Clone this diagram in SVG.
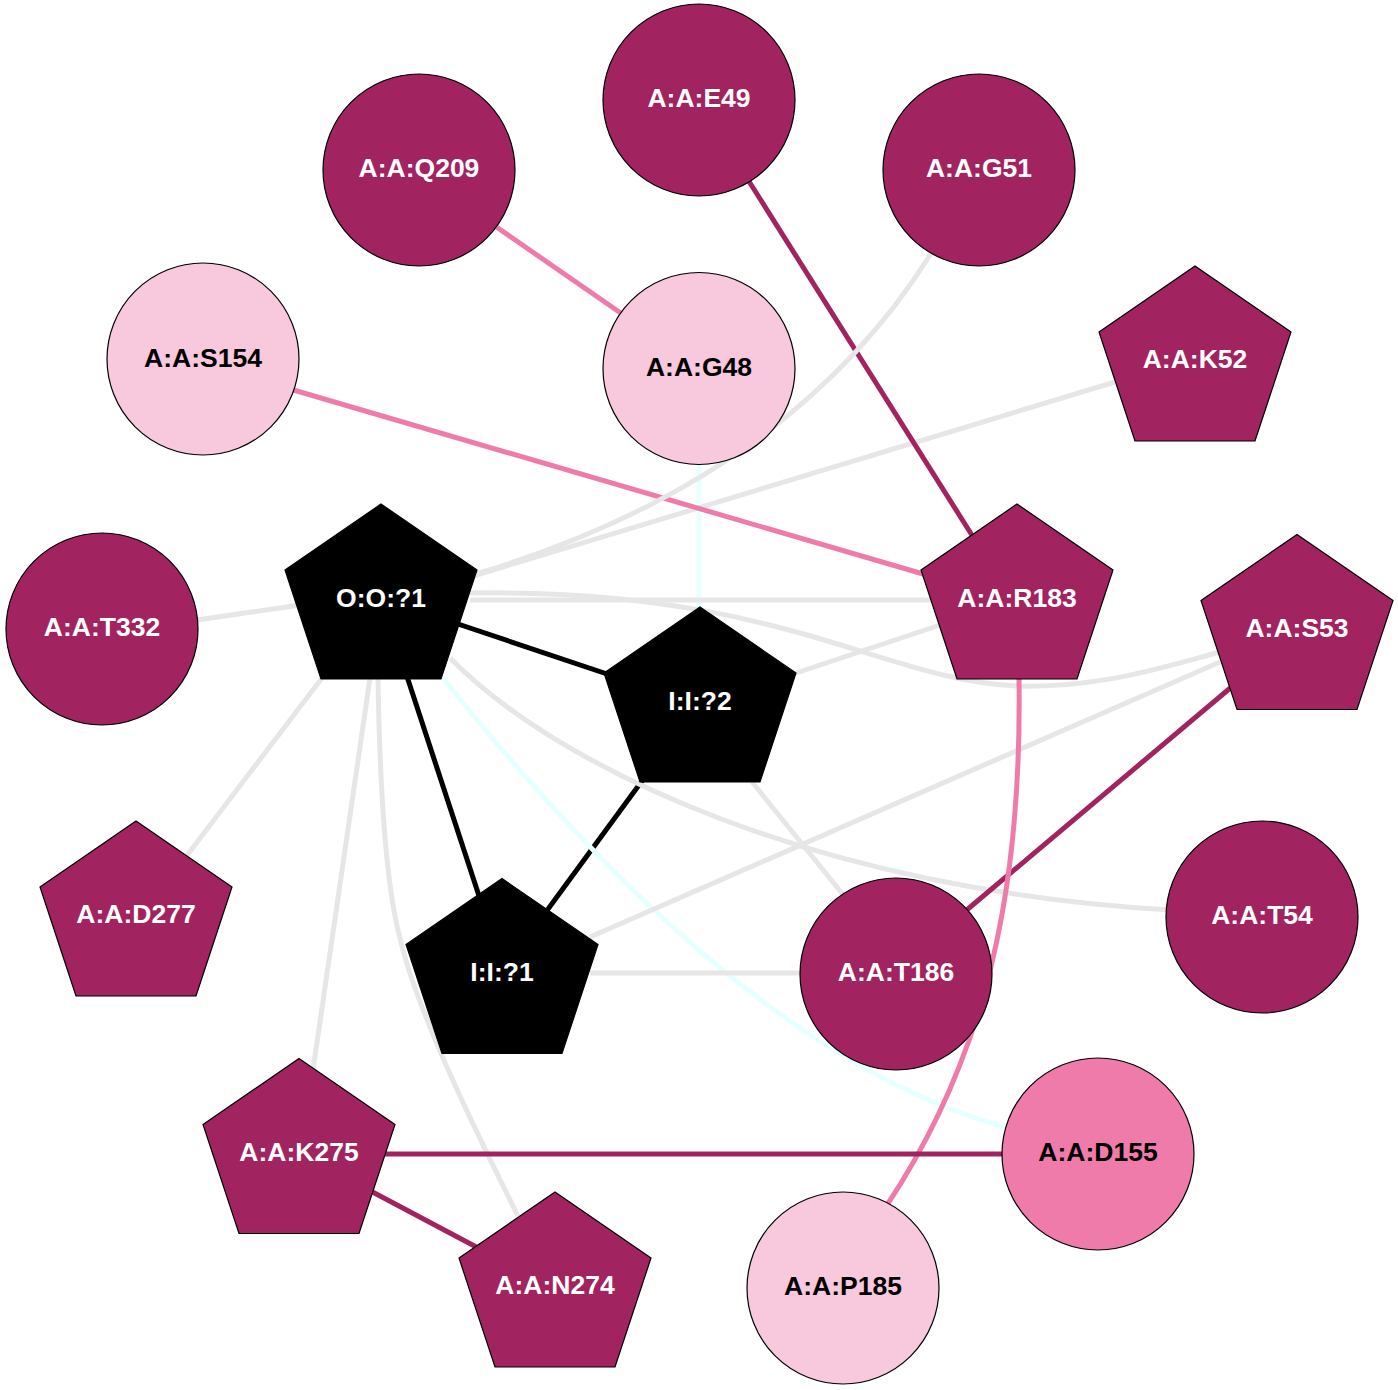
<svg xmlns="http://www.w3.org/2000/svg" xmlns:xlink="http://www.w3.org/1999/xlink" width="1398" height="1390" viewBox="0 0 1398 1390">
<style>
.e{fill:none;stroke-width:5}
.gray{stroke:#E6E6E6}
.cyan{stroke:#E6FFFF}
.blk{stroke:#000000}
.pink{stroke:#EF7BAB}
.dk{stroke:#A1235F}
.dark{fill:#A1235F;stroke:#000;stroke-width:1.2}
.light{fill:#F8C8DD;stroke:#000;stroke-width:1.2}
.mid{fill:#EF7BAB;stroke:#000;stroke-width:1.2}
.black{fill:#000;stroke:#000;stroke-width:1.2}
text{font-family:"Liberation Sans",Arial,sans-serif;font-weight:bold;font-size:26.5px;text-anchor:middle}
.w{fill:#FFFFFF}
.b{fill:#000000}
</style>
<defs>
<polygon id="pent" points="0,-93 96,-27 60,82 -60,82 -96,-27"/>
</defs>
<rect width="1398" height="1390" fill="#FFFFFF"/>
<g id="edges">
<line class="e blk" x1="440" y1="618" x2="640" y2="685"/>
<line class="e blk" x1="395" y1="640" x2="482" y2="905"/>
<line class="e blk" x1="650" y1="770" x2="540" y2="920"/>
<line class="e cyan" x1="699" y1="460" x2="699" y2="620"/>
<path class="e cyan" d="M443,678 C540,800 760,1060 1005,1127"/>
<line class="e gray" x1="190" y1="621" x2="300" y2="605"/>
<line class="e gray" x1="322" y1="678" x2="185" y2="858"/>
<line class="e gray" x1="370" y1="678" x2="313" y2="1070"/>
<path class="e gray" d="M378,678 C380,800 387,890 400,938 C416,1008 470,1120 518,1216"/>
<line class="e gray" x1="470" y1="600" x2="935" y2="600"/>
<path class="e gray" d="M470,593 C780,588 880,680 1017,686 C1100,688 1160,668 1220,652"/>
<path class="e gray" d="M450,658 C560,770 820,890 1170,910"/>
<line class="e gray" x1="790" y1="675" x2="940" y2="625"/>
<line class="e gray" x1="752" y1="782" x2="845" y2="897"/>
<line class="e gray" x1="590" y1="973" x2="805" y2="973"/>
<line class="e gray" x1="590" y1="937" x2="1220" y2="662"/>
<line class="e gray" x1="1115" y1="382" x2="470" y2="577"/>
<line class="e pink" x1="495" y1="226" x2="625" y2="316"/>
<line class="e pink" x1="290" y1="389" x2="930" y2="576"/>
<line class="e dk" x1="745" y1="175" x2="975" y2="540"/>
<line class="e dk" x1="1235" y1="684" x2="962" y2="914"/>
<path class="e pink" d="M1019,678 C1022,880 990,1050 887,1205"/>
<line class="e dk" x1="380" y1="1154" x2="1006" y2="1154"/>
<line class="e dk" x1="365" y1="1188" x2="482" y2="1250"/>
<path class="e gray" d="M932,252 Q790,480 476,574"/>
</g>
<g id="n_E49"><circle class="dark" cx="699" cy="100" r="96"/><text class="w" x="699" y="107">A:A:E49</text></g>
<g id="n_Q209"><circle class="dark" cx="419" cy="170" r="96"/><text class="w" x="419" y="177">A:A:Q209</text></g>
<g id="n_G51"><circle class="dark" cx="979" cy="170" r="96"/><text class="w" x="979" y="177">A:A:G51</text></g>
<g id="n_S154"><circle class="light" cx="203" cy="359" r="96"/><text class="b" x="203" y="367">A:A:S154</text></g>
<g id="n_G48"><circle class="light" cx="699" cy="368.5" r="96"/><text class="b" x="699" y="375.5">A:A:G48</text></g>
<g id="n_K52"><use xlink:href="#pent" href="#pent" class="dark" x="1195" y="359"/><text class="w" x="1195" y="368">A:A:K52</text></g>
<g id="n_O1"><use xlink:href="#pent" href="#pent" class="black" x="381" y="597"/><text class="w" x="381" y="606.5">O:O:?1</text></g>
<g id="n_R183"><use xlink:href="#pent" href="#pent" class="dark" x="1017" y="597"/><text class="w" x="1017" y="606.5">A:A:R183</text></g>
<g id="n_S53"><use xlink:href="#pent" href="#pent" class="dark" x="1297" y="627.5"/><text class="w" x="1297" y="637">A:A:S53</text></g>
<g id="n_T332"><circle class="dark" cx="102" cy="629" r="96"/><text class="w" x="102" y="636">A:A:T332</text></g>
<g id="n_I2"><use xlink:href="#pent" href="#pent" class="black" x="700" y="700"/><text class="w" x="700" y="709.5">I:I:?2</text></g>
<g id="n_D277"><use xlink:href="#pent" href="#pent" class="dark" x="136" y="914"/><text class="w" x="136" y="923">A:A:D277</text></g>
<g id="n_T54"><circle class="dark" cx="1262" cy="917" r="96"/><text class="w" x="1262" y="924">A:A:T54</text></g>
<g id="n_I1"><use xlink:href="#pent" href="#pent" class="black" x="502" y="971.5"/><text class="w" x="502" y="980.5">I:I:?1</text></g>
<g id="n_T186"><circle class="dark" cx="896" cy="974" r="96"/><text class="w" x="896" y="981">A:A:T186</text></g>
<g id="n_D155"><circle class="mid" cx="1098" cy="1154" r="96"/><text class="b" x="1098" y="1161">A:A:D155</text></g>
<g id="n_K275"><use xlink:href="#pent" href="#pent" class="dark" x="299" y="1151.5"/><text class="w" x="299" y="1160.5">A:A:K275</text></g>
<g id="n_N274"><use xlink:href="#pent" href="#pent" class="dark" x="555" y="1285"/><text class="w" x="555" y="1294">A:A:N274</text></g>
<g id="n_P185"><circle class="light" cx="843" cy="1288" r="96"/><text class="b" x="843" y="1295">A:A:P185</text></g>
</svg>
